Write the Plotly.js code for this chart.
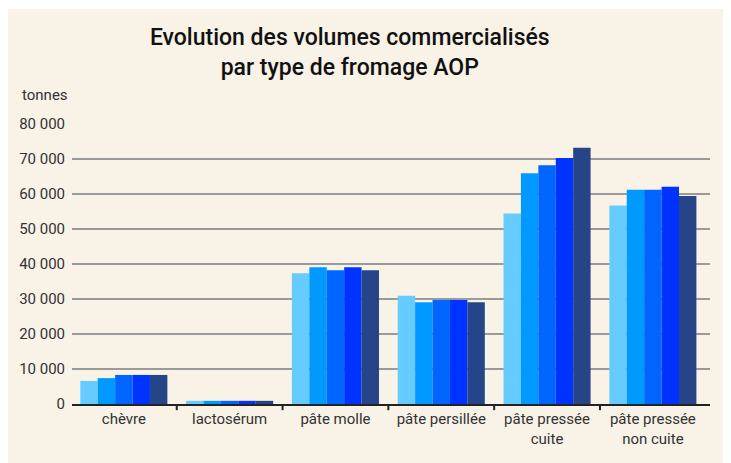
<!DOCTYPE html>
<html>
<head>
<meta charset="utf-8">
<script src="https://cdn.plot.ly/plotly-3.0.1.min.js"></script>
<style>
  html, body { margin: 0; padding: 0; background: #ffffff; width: 731px; height: 463px; overflow: hidden; }
  #chart { position: absolute; left: 8px; top: 9px; width: 715px; height: 454px; }
</style>
</head>
<body>
<div id="chart"></div>
<script>
const categories = ["chèvre", "lactosérum", "pâte molle", "pâte persillée", "pâte pressée<br>cuite", "pâte pressée<br>non cuite"];
const seriesNames = ["série 1", "série 2", "série 3", "série 4", "série 5"];
const serie1 = [6600, 900, 37350, 30900, 54400, 56700];
const serie2 = [7400, 900, 39100, 29100, 65900, 61200];
const serie3 = [8300, 900, 38200, 29700, 68200, 61200];
const serie4 = [8300, 900, 39100, 29700, 70300, 62100];
const serie5 = [8300, 900, 38200, 29100, 73200, 59400];
const seriesValues = [serie1, serie2, serie3, serie4, serie5];
const colors = ["#66CCFF", "#0099FF", "#0066FF", "#0033FF", "#264488"];
const yTickVals = [0, 10000, 20000, 30000, 40000, 50000, 60000, 70000, 80000];

const FONT = 'Roboto, "Liberation Sans", sans-serif';

const traces = seriesValues.map((vals, i) => ({
  type: 'bar',
  name: seriesNames[i],
  x: categories,
  y: vals,
  marker: { color: colors[i], line: { width: 0 } },
  hoverinfo: 'x+y+name'
}));

const shapes = [];
for (let i = 0; i < categories.length - 1; i++) {
  shapes.push({
    type: 'line', xref: 'x', yref: 'paper',
    x0: i + 0.5, x1: i + 0.5, y0: 0, y1: -0.022,
    line: { color: '#222', width: 2 }
  });
}

const layout = {
  width: 715, height: 454,
  margin: { l: 64, r: 13, t: 115, b: 59, pad: 0 },
  paper_bgcolor: '#F8F2E7',
  plot_bgcolor: '#F8F2E7',
  barmode: 'group',
  bargap: 0.177,
  bargroupgap: 0,
  showlegend: false,
  separators: ', ',
  font: { family: FONT, size: 15, color: '#333333' },
  title: {
    text: 'Evolution des volumes commercialisés<br>par type de fromage AOP',
    font: { family: FONT, size: 23, weight: 500, color: '#111111' },
    x: 0.478, xref: 'container', xanchor: 'center',
    y: 0.92, yref: 'container', yanchor: 'top'
  },
  xaxis: {
    type: 'category',
    range: [-0.49, 5.54],
    showgrid: false,
    showline: true, linecolor: '#222', linewidth: 2,
    ticks: '',
    tickfont: { family: FONT, size: 15, color: '#333' },
    fixedrange: true
  },
  yaxis: {
    range: [0, 80000],
    tickvals: yTickVals,
    tickformat: ',d',
    showgrid: true, gridcolor: '#9a9a9a', gridwidth: 1.5,
    zeroline: false,
    showline: false,
    ticks: '',
    ticklabelstandoff: 6,
    tickfont: { family: FONT, size: 15, color: '#333' },
    fixedrange: true
  },
  shapes: shapes,
  annotations: [{
    text: 'tonnes', xref: 'paper', yref: 'paper',
    x: 0, y: 1.104, xanchor: 'right', yanchor: 'middle', xshift: -2,
    showarrow: false, font: { family: FONT, size: 15, color: '#333' }
  }]
};

Plotly.newPlot('chart', traces, layout, { displayModeBar: false, staticPlot: true });
</script>
</body>
</html>
